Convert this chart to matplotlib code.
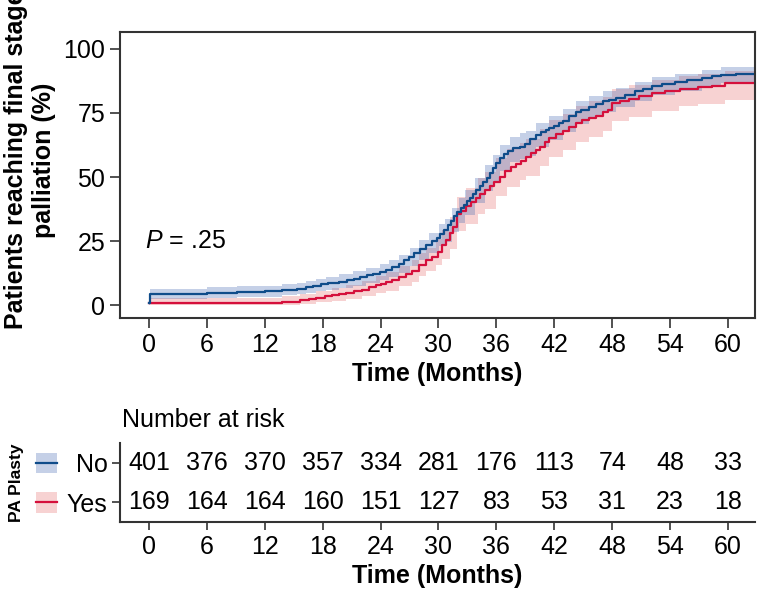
import matplotlib
matplotlib.use("Agg")
import matplotlib.pyplot as plt
from matplotlib.patches import Rectangle
from matplotlib.transforms import blended_transform_factory

plt.rcParams['font.family'] = ['Liberation Sans', 'DejaVu Sans']
plt.rcParams['mathtext.fontset'] = 'custom'
plt.rcParams['mathtext.it'] = 'Liberation Sans:italic'
plt.rcParams['mathtext.rm'] = 'Liberation Sans'

# --- data (cumulative incidence, %) ---
# PA Plasty = No : estimate
no_t = [0.0, 0.15, 6.0, 9.1, 12.0, 13.8, 15.3, 16.3, 17.0, 17.8, 18.6, 19.7,
        20.5, 21.2, 21.9, 22.6, 23.2, 23.9, 24.6, 25.2, 25.9, 26.4, 26.9, 27.5,
        28.1, 28.7, 29.3, 29.8, 30.2, 30.6, 31.0, 31.3, 31.6, 31.9, 32.3, 32.6,
        33.0, 33.3, 33.6, 33.9, 34.3, 34.6, 35.0, 35.3, 35.7, 36.0, 36.4, 36.8,
        37.2, 37.7, 38.4, 39.0, 39.5, 40.1, 40.6, 41.1, 41.5, 42.0, 42.5, 42.9,
        43.5, 44.2, 44.8, 45.6, 46.3, 47.0, 47.7, 48.4, 49.3, 50.4, 51.2, 52.1,
        53.2, 54.5, 55.8, 57.3, 58.3, 59.3, 60.8, 62.8]
no_est = [1.0, 4.3, 4.8, 5.2, 5.5, 5.9, 6.3, 7.0, 7.5, 8.1, 8.6, 9.2,
          9.7, 10.4, 11.0, 11.6, 12.3, 13.0, 13.8, 14.8, 16.2, 17.6, 18.9, 20.3,
          21.9, 23.5, 25.0, 26.2, 27.6, 29.2, 31.2, 33.0, 34.8, 36.2, 37.8, 39.1,
          40.5, 41.9, 43.4, 44.9, 46.4, 47.9, 49.8, 51.6, 53.6, 55.6, 57.5, 59.0,
          60.3, 61.2, 61.8, 63.0, 64.8, 66.4, 67.4, 68.3, 69.2, 70.1, 71.0, 71.8,
          74.0, 75.3, 76.3, 77.5, 78.6, 79.5, 80.2, 81.0, 82.0, 83.5, 84.5, 85.4,
          86.2, 86.9, 87.7, 88.6, 89.3, 90.0, 90.4, 90.4]
# PA Plasty = No : confidence band
no_ci_t = [0.0, 0.15, 6.0, 9.1, 13.8, 15.3, 16.3, 17.3, 18.3, 19.7, 21.1, 22.5,
           23.9, 24.9, 25.9, 27.0, 28.0, 29.0, 30.1, 30.7, 31.4, 32.1, 32.8, 33.8,
           34.8, 35.6, 36.4, 37.4, 38.4, 39.1, 40.1, 41.5, 42.9, 44.2, 45.6, 47.0,
           48.4, 50.4, 52.1, 54.5, 57.3, 59.3, 62.8]
no_lo = [0.2, 2.6, 3.0, 3.3, 3.9, 4.3, 4.8, 5.4, 6.0, 6.6, 7.6, 8.6,
         10.0, 11.0, 12.7, 15.2, 17.8, 20.4, 23.2, 24.8, 28.5, 32.2, 35.1, 39.8,
         44.4, 48.4, 52.3, 55.7, 57.0, 58.2, 61.6, 64.6, 67.4, 70.8, 73.3, 75.5,
         77.2, 79.8, 81.9, 83.6, 85.5, 86.8, 87.2]
no_hi = [2.5, 6.4, 7.0, 7.5, 8.2, 8.8, 9.5, 10.3, 11.1, 12.0, 13.4, 14.7,
         16.2, 17.6, 19.7, 22.5, 25.5, 28.3, 31.8, 33.6, 37.8, 41.9, 44.8, 49.6,
         54.6, 58.8, 62.5, 65.7, 67.0, 68.0, 71.2, 73.9, 76.4, 79.6, 81.7, 83.5,
         84.8, 87.1, 88.9, 90.2, 91.7, 92.8, 93.1]

# PA Plasty = Yes : estimate
yes_t = [0.0, 13.8, 15.7, 16.6, 17.3, 18.2, 19.0, 19.7, 20.4, 21.2, 22.1, 22.8,
         23.5, 24.0, 24.6, 25.2, 25.9, 26.6, 27.3, 28.0, 28.7, 29.3, 29.9, 30.4,
         30.8, 31.2, 31.5, 31.9, 32.3, 32.9, 33.4, 33.9, 34.3, 34.8, 35.3, 35.8,
         36.4, 36.9, 37.5, 38.0, 38.6, 39.1, 39.6, 40.1, 40.5, 41.0, 41.5, 42.2,
         42.9, 43.5, 44.2, 44.9, 45.6, 46.3, 47.0, 47.6, 48.0, 48.8, 49.7, 50.8,
         52.1, 53.5, 55.0, 56.9, 58.3, 59.7, 62.8]
yes_est = [0.7, 1.3, 1.95, 2.5, 2.9, 3.4, 3.9, 4.4, 4.8, 5.4, 6.1, 7.0,
           7.8, 8.4, 9.1, 10.0, 11.1, 12.0, 13.3, 15.6, 17.6, 19.0, 20.8, 23.5,
           25.6, 28.0, 30.5, 35.5, 36.6, 38.8, 40.4, 41.8, 43.3, 44.9, 46.5, 48.2,
           50.0, 52.2, 54.0, 55.2, 56.4, 57.9, 59.3, 60.6, 61.8, 63.6, 65.4, 66.8,
           67.9, 69.5, 71.0, 72.4, 73.0, 74.0, 75.2, 76.0, 78.8, 79.6, 80.4, 81.5,
           82.7, 83.6, 84.5, 85.3, 85.7, 86.6, 86.6]
# PA Plasty = Yes : confidence band
yes_ci_t = [0.0, 13.8, 15.7, 17.3, 19.0, 20.4, 22.1, 23.5, 24.6, 25.9, 27.3, 28.0,
            28.7, 29.7, 30.4, 31.2, 31.9, 32.9, 34.1, 34.8, 36.0, 37.1, 38.4, 39.1,
            40.5, 41.5, 42.9, 44.2, 45.6, 47.0, 48.0, 49.7, 52.1, 54.9, 56.9, 59.7,
            62.8]
yes_lo = [0.0, 0.1, 0.5, 1.1, 1.8, 2.4, 3.5, 4.7, 5.7, 7.3, 9.0, 11.3,
          13.2, 15.5, 18.0, 22.0, 29.0, 31.8, 35.4, 37.7, 42.5, 46.3, 49.0, 50.4,
          54.3, 57.8, 60.5, 63.6, 65.8, 68.0, 71.7, 73.3, 75.8, 77.6, 78.7, 80.1,
          80.1]
yes_hi = [2.8, 3.4, 4.2, 5.5, 6.8, 7.9, 9.5, 11.5, 12.9, 15.3, 17.8, 20.2,
          22.4, 26.0, 29.5, 34.5, 42.3, 45.6, 49.6, 52.1, 57.3, 61.0, 63.4, 64.8,
          68.6, 72.3, 74.8, 77.6, 79.6, 81.4, 84.4, 85.8, 87.9, 89.3, 90.2, 91.4,
          91.4]

# number at risk
risk_times = [0, 6, 12, 18, 24, 30, 36, 42, 48, 54, 60]
risk_no = [401, 376, 370, 357, 334, 281, 176, 113, 74, 48, 33]
risk_yes = [169, 164, 164, 160, 151, 127, 83, 53, 31, 23, 18]

BLUE = '#0f4c8a'
RED = '#d5103c'
BLUE_FILL = '#3f66b0'
RED_FILL = '#e56a6a'
FS = 18

fig = plt.figure(figsize=(7.57, 5.97), dpi=100)
ax = fig.add_axes([0.1585, 0.4673, 0.8389, 0.4791])

ax.fill_between(yes_ci_t, yes_lo, yes_hi, step='post', color=RED_FILL, alpha=0.3, lw=0)
ax.fill_between(no_ci_t, no_lo, no_hi, step='post', color=BLUE_FILL, alpha=0.3, lw=0)
ax.step(yes_t, yes_est, where='post', color=RED, lw=1.6)
ax.step(no_t, no_est, where='post', color=BLUE, lw=1.6)

ax.set_xlim(-3, 62.8)
ax.set_ylim(-5, 106.6)
ax.set_xticks(risk_times)
ax.set_yticks([0, 25, 50, 75, 100])
ax.tick_params(labelsize=FS, length=7, width=1.2, color='#333333')
for s in ax.spines.values():
    s.set_linewidth(1.5)
    s.set_color('#333333')
ax.set_xlabel('Time (Months)', fontsize=FS, fontweight='bold', labelpad=4)
ax.text(-0.4, 25, r'$\it{P}$ = .25', fontsize=FS, va='center', ha='left')

fig.text(30 / 757, 1 - 160 / 597, 'Patients reaching final stage\npalliation (%)',
         rotation=90, fontsize=FS, fontweight='bold', ha='center', va='center',
         linespacing=1.2)

# --- risk table ---
rt = fig.add_axes([0.1585, 0.1256, 0.8389, 0.1323])
rt.set_xlim(-3, 62.8)
rt.set_ylim(-0.5, 1.5)
for t, n in zip(risk_times, risk_no):
    rt.text(t, 1, str(n), ha='center', va='center', fontsize=FS)
for t, n in zip(risk_times, risk_yes):
    rt.text(t, 0, str(n), ha='center', va='center', fontsize=FS)
rt.set_yticks([1, 0])
rt.set_yticklabels(['No', 'Yes'])
rt.set_xticks(risk_times)
rt.tick_params(labelsize=FS, length=6, width=1.2, color='#333333', pad=3)
rt.spines['top'].set_visible(False)
rt.spines['right'].set_visible(False)
for s in ('left', 'bottom'):
    rt.spines[s].set_linewidth(1.5)
    rt.spines[s].set_color('#333333')
rt.set_xlabel('Time (Months)', fontsize=FS, fontweight='bold', labelpad=4)

tr = blended_transform_factory(rt.transAxes, rt.transData)
for yv, fc, lc in [(1, BLUE_FILL, BLUE), (0, RED_FILL, RED)]:
    rt.add_patch(Rectangle((-0.132, yv - 0.26), 0.033, 0.52, transform=tr,
                           facecolor=fc, alpha=0.3, lw=0, clip_on=False))
    rt.plot([-0.132, -0.099], [yv, yv], transform=tr, color=lc, lw=1.6,
            clip_on=False)

fig.text(122 / 757, 1 - 420 / 597, 'Number at risk', fontsize=FS, va='center', ha='left')
fig.text(17 / 757, 1 - 483 / 597, 'PA Plasty', rotation=90, fontsize=12.5,
         fontweight='bold', ha='center', va='center')

fig.savefig('out.png', dpi=100)
